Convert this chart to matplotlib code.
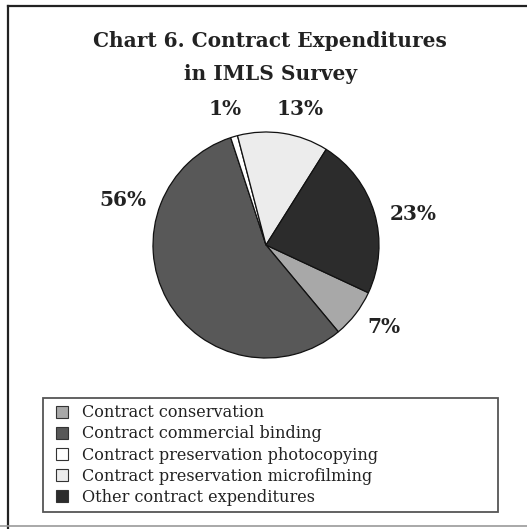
import matplotlib
matplotlib.use("Agg")
import matplotlib.pyplot as plt
from matplotlib.lines import Line2D

# contract expenditure shares (percent), drawn clockwise
categories = ["Contract conservation",
              "Contract commercial binding",
              "Contract preservation photocopying",
              "Contract preservation microfilming",
              "Other contract expenditures"]
shares = [7, 56, 1, 13, 23]
colors = ["#a8a8a8", "#585858", "#ffffff", "#ececec", "#2c2c2c"]

# where each percent label sits, in units of the pie radius
label_xy = [(1.04, -0.73), (-1.27, 0.40), (-0.36, 1.20), (0.30, 1.20), (1.30, 0.27)]

W, H = 527, 529
fig = plt.figure(figsize=(W / 100, H / 100), dpi=100)
fig.patch.set_facecolor("white")

# pie axes: centre (266, 245) px, radius 113 px
cx, cy, r = 266, 245, 113
span = 1.5
ax = fig.add_axes([(cx - span * r) / W, (H - cy - span * r) / H,
                   2 * span * r / W, 2 * span * r / H])
ax.pie(shares, colors=colors, startangle=-25, counterclock=False, radius=1,
       wedgeprops=dict(edgecolor="#111111", linewidth=0.9))
ax.set_xlim(-span, span)
ax.set_ylim(-span, span)
ax.set_aspect("equal")
ax.axis("off")

for val, (lx, ly) in zip(shares, label_xy):
    ax.text(lx, ly, "{}%".format(val), ha="center", va="center",
            fontsize=14.5, fontweight="bold", family="DejaVu Serif", color="#222222")

fig.text(270 / W, 1 - 41 / H, "Chart 6. Contract Expenditures", ha="center", va="center",
         fontsize=14.5, fontweight="bold", family="DejaVu Serif", color="#222222")
fig.text(270 / W, 1 - 74 / H, "in IMLS Survey", ha="center", va="center",
         fontsize=14.5, fontweight="bold", family="DejaVu Serif", color="#222222")

handles = [Line2D([], [], linestyle="none", marker="s", markersize=8.6,
                  markerfacecolor=c, markeredgecolor="#333333", markeredgewidth=0.8)
           for c in colors]
leg_top = 1 - 398 / H
leg = fig.legend(handles, categories, loc="upper left",
                 bbox_to_anchor=(43 / W, leg_top - 0.2, (498 - 43) / W, 0.2),
                 mode="expand", ncol=1, frameon=True, fancybox=False, framealpha=1,
                 prop=dict(family="DejaVu Serif", size=11.6),
                 handlelength=1.6, handletextpad=0.44, borderpad=0.4,
                 labelspacing=0.25, borderaxespad=0)
leg.get_frame().set_edgecolor("#555555")
leg.get_frame().set_linewidth(1.3)
for t in leg.get_texts():
    t.set_color("#222222")

# outer frame: dark top and left rules, grey rule at the bottom
fig.add_artist(Line2D([7.5 / W, 1], [1 - 5.5 / H, 1 - 5.5 / H], color="#222222", lw=1.6))
fig.add_artist(Line2D([7.5 / W, 7.5 / W], [0, 1 - 5.5 / H], color="#222222", lw=1.6))
fig.add_artist(Line2D([0, 1], [3 / H, 3 / H], color="#999999", lw=1.2))

fig.savefig("out.png", dpi=100, facecolor="white")
